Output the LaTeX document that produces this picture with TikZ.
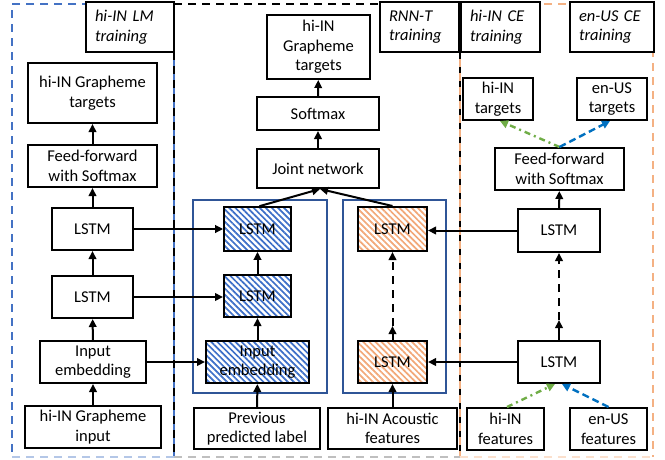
\documentclass[tikz,border=0pt]{standalone}
\usepackage{fontspec}
\setmainfont{Carlito}
\usetikzlibrary{arrows.meta,patterns.meta}
\definecolor{dblue}{HTML}{4472C4}
\definecolor{lblue}{HTML}{B4C7E7}
\definecolor{dorange}{HTML}{F4B183}
\definecolor{lorange}{HTML}{FBE0CD}
\definecolor{lgray}{HTML}{BFBFBF}
\definecolor{frameblue}{HTML}{2F5597}
\definecolor{cegreen}{HTML}{70AD47}
\definecolor{ceblue}{HTML}{0070C0}
\definecolor{hatchblue}{HTML}{3D6FC8}
\definecolor{hatchorange}{HTML}{F2A878}
\begin{document}
\begin{tikzpicture}[x=1pt,y=-1pt,
  txt/.style={font=\fontsize{16.5}{19.5}\selectfont},
  box/.style 2 args={draw, line width=2pt, align=center, inner sep=0pt, fill=white, txt,
    minimum width=#1pt, minimum height=#2pt},
  lbl/.style 2 args={draw, line width=2pt, align=left, inner ysep=0pt, inner xsep=9pt,
    fill=white, font=\fontsize{16.5}{19.5}\selectfont\itshape,
    text width=#1pt-18pt, minimum height=#2pt},
  hb/.style={pattern={Lines[angle=-45,distance=4.3pt,line width=1.7pt]}, pattern color=hatchblue},
  ho/.style={pattern={Lines[angle=-45,distance=4.3pt,line width=1.7pt]}, pattern color=hatchorange},
  arr/.style={line width=2pt, -{Triangle[length=8pt,width=7.5pt]}},
  frame/.style={draw=frameblue, line width=1.6pt},
  outl/.style={line width=2.3pt, dash pattern=on 8pt off 6pt}
  ]
\useasboundingbox (0,0) rectangle (665,459);

% dashed training regions
\draw[outl, dblue] (174,4) -- (12,4) -- (12,457);
\draw[outl, dblue, dash phase=7pt] (174,52) -- (174,457);
\draw[outl, black] (174,4) -- (460,4);
\draw[outl, black] (174,52) -- (174,457);
\draw[outl, black] (460,52) -- (460,457);
\draw[outl, dorange] (460,4) -- (653,4) -- (653,457);
\draw[outl, dorange, dash phase=7pt] (460,52) -- (460,457);
\draw[line width=1.6pt, lblue, dash pattern=on 8pt off 6pt] (12,457) -- (174,457);
\draw[line width=1.6pt, lgray, dash pattern=on 8pt off 6pt] (174,457) -- (460,457);
\draw[line width=1.6pt, lorange, dash pattern=on 8pt off 6pt] (460,457) -- (653,457);

% region labels
\node[lbl={88}{50}] (lmlabel) at (130,27) {hi-IN LM\\training};
\node[lbl={79}{50}] (rnnlabel) at (419.5,27) {RNN-T\\training};
\node[lbl={79}{50}] (hilabel) at (500.5,27) {hi-IN CE\\training};
\node[lbl={84}{50}] (enlabel) at (612,27) {en-US CE\\training};

% blue frames
\draw[frame] (193,200) rectangle (327,393);
\draw[frame] (343,200) rectangle (446,393);

% left column
\node[box={129}{60}] (lmtgt) at (92.5,93) {hi-IN Grapheme\\targets};
\node[box={129}{42}] (lmff) at (92.5,166) {Feed-forward\\with Softmax};
\node[box={81}{42}] (lmlstm2) at (92.5,229) {LSTM};
\node[box={81}{42}] (lmlstm1) at (92.5,297) {LSTM};
\node[box={106}{42}] (lmemb) at (93,362) {Input\\embedding};
\node[box={136}{42}] (lmin) at (93,427) {hi-IN Grapheme\\input};

% middle column
\node[box={103}{64}] (rtgt) at (318.5,47) {hi-IN\\Grapheme\\targets};
\node[box={122}{33}] (soft) at (318,113.5) {Softmax};
\node[box={122}{39}] (joint) at (318,168.5) {Joint network};
\node[box={67}{44}, hb] (plstm2) at (257.5,229) {LSTM};
\node[box={67}{42}, hb] (plstm1) at (257.5,296) {LSTM};
\node[box={103}{42}, hb] (pemb) at (257.5,362) {Input\\embedding};
\node[box={69}{44}, ho] (elstm2) at (392.5,229) {LSTM};
\node[box={69}{42}, ho] (elstm1) at (392.5,362) {LSTM};
\node[box={126}{41}] (prev) at (257,428.5) {Previous\\predicted label};
\node[box={129}{41}] (acou) at (392.5,428.5) {hi-IN Acoustic\\features};

% right column
\node[box={70}{42}] (hitgt) at (498,99) {hi-IN\\targets};
\node[box={70}{42}] (entgt) at (612,99) {en-US\\targets};
\node[box={129}{42}] (ceff) at (559.5,169) {Feed-forward\\with Softmax};
\node[box={82}{43}] (celstm2) at (559,230.5) {LSTM};
\node[box={82}{42}] (celstm1) at (559,362) {LSTM};
\node[box={77}{42}] (hifeat) at (505.5,429) {hi-IN\\features};
\node[box={77}{42}] (enfeat) at (608.5,429) {en-US\\features};

\coordinate (emid) at (392.5,326);
\coordinate (cmid) at (559,320);

% left arrows
\draw[arr] (lmin) -- (lmemb);
\draw[arr] (lmemb) -- (lmlstm1);
\draw[arr] (lmlstm1) -- (lmlstm2);
\draw[arr] (lmlstm2) -- (lmff);
\draw[arr] (lmff) -- (lmtgt);
\draw[arr] (lmlstm2.east) -- (plstm2.west);
\draw[arr] (lmlstm1.east) -- (lmlstm1.east -| plstm1.west);
\draw[arr] (lmemb.east) -- (pemb.west);

% middle arrows
\draw[arr] (prev) -- (pemb);
\draw[arr] (pemb) -- (plstm1);
\draw[arr] (plstm1) -- (plstm2);
\draw[arr] (acou) -- (elstm1);
\draw[arr] (elstm1) -- (emid);
\draw[arr, dash pattern=on 8pt off 6pt] (emid) -- (elstm2);
\draw[arr] ([xshift=2pt]plstm2.north) -- ([xshift=2pt]joint.south);
\draw[arr] (elstm2.north) -- ([xshift=2pt]joint.south);
\draw[arr] (joint) -- (soft);
\draw[arr] (soft) -- (rtgt);

% right arrows
\draw[arr] (celstm1) -- (cmid);
\draw[arr, dash pattern=on 8pt off 6pt] (cmid) -- (celstm2);
\draw[arr] (celstm2) -- (ceff);
\draw[arr] (celstm2.west) -- (celstm2.west -| elstm2.east);
\draw[arr] (celstm1.west) -- (elstm1.east);
\draw[line width=2.4pt, cegreen, dash pattern=on 6pt off 4pt on 2pt off 4pt,
  -{Triangle[length=8pt,width=8pt]}] (ceff.north) -- ([xshift=2pt]hitgt.south);
\draw[line width=2.4pt, ceblue, dash pattern=on 7pt off 4pt,
  -{Triangle[length=8pt,width=8pt]}] (ceff.north) -- ([xshift=-2pt]entgt.south);
\draw[line width=2.4pt, cegreen, dash pattern=on 6pt off 4pt on 2pt off 4pt,
  -{Triangle[length=8pt,width=8pt]}] ([xshift=1.5pt]hifeat.north) -- ([xshift=-4pt]celstm1.south);
\draw[line width=2.4pt, ceblue, dash pattern=on 7pt off 4pt,
  -{Triangle[length=8pt,width=8pt]}] (enfeat.north) -- ([xshift=3pt]celstm1.south);
\end{tikzpicture}
\end{document}
